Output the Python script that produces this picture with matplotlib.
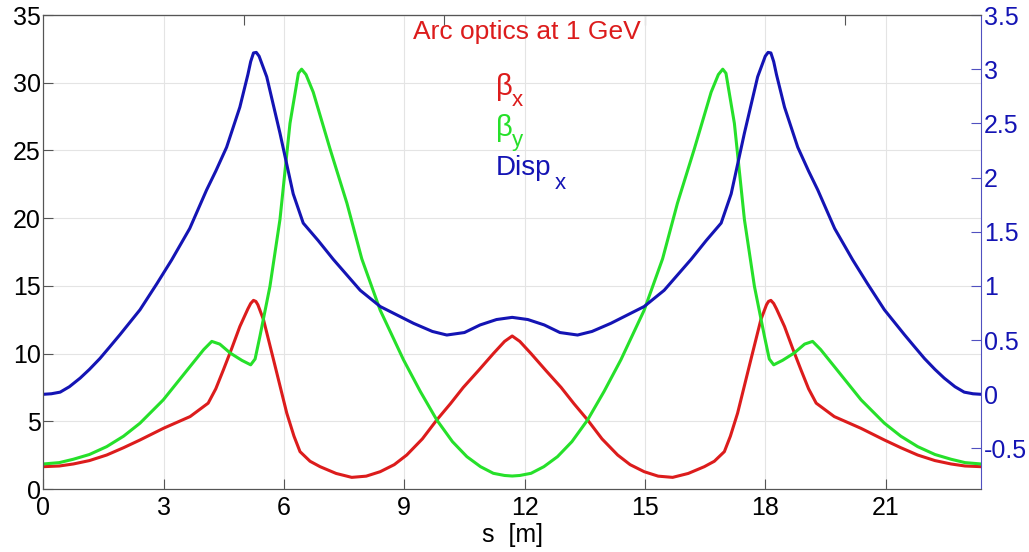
import matplotlib
matplotlib.use("Agg")
import matplotlib.pyplot as plt

plt.rcParams['font.family'] = ['Liberation Sans', 'DejaVu Sans']

# beta_x [m] along the arc cell
s_bx = [0, 0.4, 0.75, 1.15, 1.58, 2.0, 2.41, 3.0, 3.66, 4.11, 4.3, 4.49, 4.7, 4.9, 5.1,
        5.17, 5.24, 5.3, 5.35, 5.49, 5.74, 6.07, 6.25, 6.4, 6.65, 6.9, 7.3, 7.69, 8.05,
        8.4, 8.75, 9.06, 9.45, 9.81, 10.15, 10.47, 10.85, 11.22, 11.5, 11.69,
        11.88, 12.16, 12.53, 12.91, 13.23, 13.57, 13.93, 14.32, 14.63, 14.98, 15.33,
        15.69, 16.08, 16.48, 16.73, 16.98, 17.13, 17.31, 17.64, 17.89, 18.03, 18.08,
        18.14, 18.21, 18.28, 18.48, 18.68, 18.89, 19.08, 19.27, 19.72, 20.38, 20.97,
        21.38, 21.8, 22.23, 22.63, 22.98, 23.38]
beta_x = [1.65, 1.7, 1.85, 2.1, 2.51, 3.05, 3.62, 4.49, 5.35, 6.34, 7.4, 8.8, 10.4, 12.0, 13.3,
          13.7, 13.93, 13.85, 13.6, 12.5, 9.54, 5.6, 3.9, 2.76, 2.05, 1.65, 1.15, 0.86, 0.95,
          1.28, 1.8, 2.51, 3.7, 5.1, 6.3, 7.5, 8.75, 10.0, 10.9, 11.3,
          10.9, 10.0, 8.75, 7.5, 6.3, 5.1, 3.7, 2.51, 1.8, 1.28, 0.95,
          0.86, 1.15, 1.65, 2.05, 2.76, 3.9, 5.6, 9.54, 12.5, 13.6, 13.85,
          13.93, 13.7, 13.3, 12.0, 10.4, 8.8, 7.4, 6.34, 5.35, 4.49, 3.62,
          3.05, 2.51, 2.1, 1.85, 1.7, 1.65]

# beta_y [m]
s_by = [0, 0.4, 0.75, 1.15, 1.58, 2.0, 2.41, 2.99, 3.66, 4.0, 4.2, 4.4, 4.66, 4.95, 5.17,
        5.28, 5.4, 5.65, 5.9, 6.15, 6.36, 6.44, 6.55, 6.73, 7.15, 7.57, 7.94, 8.4, 8.98,
        9.4, 9.81, 10.2, 10.56, 10.9, 11.22, 11.5, 11.69,
        11.88, 12.16, 12.48, 12.82, 13.18, 13.57, 13.98, 14.4, 14.98, 15.44, 15.81,
        16.23, 16.65, 16.83, 16.94, 17.02, 17.23, 17.48, 17.73, 17.98, 18.1, 18.21,
        18.43, 18.72, 18.98, 19.18, 19.38, 19.72, 20.39, 20.97, 21.38, 21.8, 22.23,
        22.63, 22.98, 23.38]
beta_y = [1.85, 1.95, 2.2, 2.55, 3.13, 3.9, 4.86, 6.58, 9.05, 10.3, 10.9, 10.7, 10.04, 9.5, 9.17,
          9.6, 11.27, 14.96, 19.9, 27.0, 30.7, 31.0, 30.6, 29.3, 25.1, 21.1, 17.0, 13.2, 9.54,
          7.2, 5.1, 3.5, 2.39, 1.65, 1.16, 1.0, 0.96,
          1.0, 1.16, 1.65, 2.39, 3.5, 5.1, 7.2, 9.54, 13.2, 17.0, 21.1,
          25.1, 29.3, 30.6, 31.0, 30.7, 27.0, 19.9, 14.96, 11.27, 9.6, 9.17,
          9.5, 10.04, 10.7, 10.9, 10.3, 9.05, 6.58, 4.86, 3.9, 3.13, 2.55,
          2.2, 1.95, 1.85]

# horizontal dispersion [m]
s_dx = [0, 0.2, 0.42, 0.65, 0.92, 1.15, 1.41, 1.65, 1.91, 2.41, 2.83, 3.2, 3.65, 4.07, 4.3,
        4.57, 4.9, 5.1, 5.17, 5.24, 5.31, 5.38, 5.57, 5.9, 6.23, 6.48, 6.85, 7.23, 7.9, 8.4,
        9.23, 9.7, 10.06, 10.5, 10.89, 11.3, 11.69,
        12.08, 12.49, 12.88, 13.32, 13.68, 14.15, 14.98, 15.48, 16.15, 16.53, 16.9,
        17.15, 17.48, 17.81, 18.0, 18.07, 18.14, 18.21, 18.28, 18.48, 18.81, 19.08,
        19.31, 19.73, 20.18, 20.55, 20.97, 21.47, 21.73, 21.97, 22.23, 22.46, 22.73,
        22.96, 23.18, 23.38]
disp_x = [0.0, 0.005, 0.02, 0.07, 0.15, 0.23, 0.33, 0.435, 0.55, 0.78, 1.02, 1.24, 1.53, 1.885, 2.06,
          2.28, 2.65, 2.95, 3.07, 3.15, 3.155, 3.12, 2.93, 2.41, 1.85, 1.58, 1.42, 1.245, 0.96, 0.81,
          0.655, 0.58, 0.547, 0.57, 0.64, 0.69, 0.71,
          0.69, 0.64, 0.57, 0.547, 0.58, 0.655, 0.81, 0.96, 1.245, 1.42, 1.58,
          1.85, 2.41, 2.93, 3.12, 3.155, 3.15, 3.07, 2.95, 2.65, 2.28, 2.06,
          1.885, 1.53, 1.24, 1.02, 0.78, 0.55, 0.435, 0.33, 0.23, 0.15, 0.07,
          0.02, 0.005, 0.0]

x_ticks = [0, 3, 6, 9, 12, 15, 18, 21]
top_ticks = [5, 10, 15, 20]
left_ticks = [0, 5, 10, 15, 20, 25, 30, 35]
right_ticks = [-0.5, 0, 0.5, 1, 1.5, 2, 2.5, 3, 3.5]
right_labels = ['-0.5', '0', '0.5', '1', '1.5', '2', '2.5', '3', '3.5']

RED, GREEN, BLUE = '#dc1c1c', '#26e02a', '#1414b4'
AXC = '#555555'

fig = plt.figure(figsize=(10.29, 5.52), dpi=100)
ax = fig.add_axes([0.0421, 0.1141, 0.9113, 0.8587])
ax2 = ax.twinx()

ax.plot(s_bx, beta_x, color=RED, lw=2.2)
ax.plot(s_by, beta_y, color=GREEN, lw=2.2)
ax2.plot(s_dx, disp_x, color=BLUE, lw=2.2)

ax.set_xlim(0, 23.38)
ax.set_ylim(0, 35)
ax2.set_ylim(-0.874, 3.5)
ax.set_xticks(x_ticks)
ax.set_yticks(left_ticks)
ax2.set_yticks(right_ticks)
ax2.set_yticklabels(right_labels)

ax.grid(True, color='#e4e4e4', lw=0.8)
ax.set_axisbelow(True)

ax.tick_params(axis='x', direction='in', length=7, color=AXC, labelsize=18, pad=5)
ax.tick_params(axis='y', direction='in', length=7, color=AXC, labelsize=18, pad=2,
               right=False)
ax2.tick_params(axis='y', direction='in', length=7, color='#5050c0', labelsize=18,
                labelcolor=BLUE, pad=2)

# unlabelled ticks along the top edge
top = ax.secondary_xaxis('top')
top.set_xticks(top_ticks)
top.tick_params(direction='in', length=7, color=AXC, labeltop=False)
top.spines['top'].set_color(AXC)

for sp in ['left', 'bottom', 'top']:
    ax.spines[sp].set_color(AXC)
    ax2.spines[sp].set_color(AXC)
ax2.spines['right'].set_color('#5050c0')
ax.spines['right'].set_visible(False)

ax.set_xlabel('s  [m]', fontsize=18, labelpad=2)

ax.text(12.06, 33.2, 'Arc optics at 1 GeV', color=RED, fontsize=19, ha='center',
        va='baseline')

# legend labels with hand-placed subscripts
ax.text(11.29, 29.1, 'β', color=RED, fontsize=21, va='baseline')
ax.text(11.68, 28.25, 'x', color=RED, fontsize=16, va='baseline')
ax.text(11.29, 26.06, 'β', color=GREEN, fontsize=21, va='baseline')
ax.text(11.68, 25.3, 'y', color=GREEN, fontsize=16, va='baseline')
ax.text(11.29, 23.2, 'Disp', color=BLUE, fontsize=20, va='baseline')
ax.text(12.74, 22.15, 'x', color=BLUE, fontsize=16, va='baseline')

fig.savefig('out.png', dpi=100)
